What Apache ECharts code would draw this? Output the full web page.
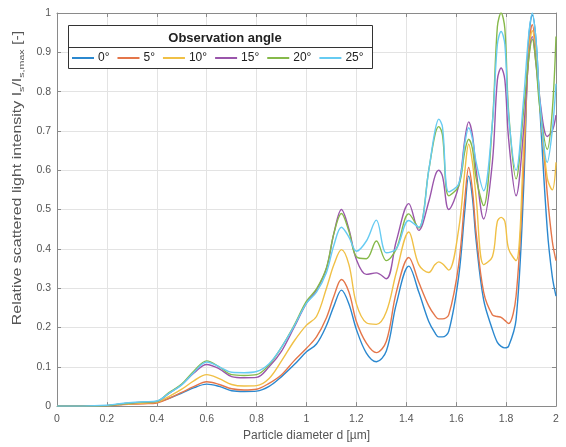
<!DOCTYPE html>
<html>
<head>
<meta charset="utf-8">
<script src="https://cdn.jsdelivr.net/npm/echarts@6/dist/echarts.min.js"></script>
<style>html,body{margin:0;padding:0;background:#fff}#c{width:566px;height:447px}</style>
</head>
<body>
<div id="c"></div>
<script>
var xs = [0, 0.1, 0.2, 0.25, 0.3, 0.35, 0.4, 0.45, 0.5, 0.55, 0.6, 0.65, 0.7, 0.75, 0.8, 0.85, 0.9, 0.95, 1.0,
  1.04, 1.08, 1.11, 1.14, 1.17, 1.2, 1.24, 1.28, 1.32, 1.36, 1.41, 1.45, 1.49, 1.515, 1.53, 1.545, 1.57, 1.61, 1.635, 1.65, 1.665,
  1.68, 1.71, 1.745, 1.765, 1.78, 1.795, 1.81, 1.84, 1.87, 1.89, 1.905, 1.92, 1.935, 1.965, 1.985, 2.0];

var angle0 = [0, 0, 0.001, 0.004, 0.006, 0.008, 0.01, 0.02, 0.033, 0.047, 0.056, 0.05, 0.039, 0.037, 0.038, 0.05, 0.075, 0.105, 0.138,
  0.158, 0.205, 0.255, 0.295, 0.26, 0.195, 0.135, 0.113, 0.14, 0.26, 0.356, 0.29, 0.215, 0.186, 0.176, 0.176, 0.19, 0.33, 0.5, 0.585, 0.53,
  0.42, 0.27, 0.195, 0.162, 0.152, 0.148, 0.152, 0.22, 0.55, 0.93, 0.995, 0.93, 0.76, 0.45, 0.33, 0.28];
var angle5 = [0, 0, 0.001, 0.003, 0.005, 0.006, 0.008, 0.02, 0.035, 0.05, 0.062, 0.055, 0.044, 0.041, 0.043, 0.058, 0.08, 0.115, 0.147,
  0.176, 0.225, 0.28, 0.322, 0.29, 0.215, 0.16, 0.136, 0.165, 0.29, 0.378, 0.315, 0.255, 0.23, 0.222, 0.222, 0.232, 0.36, 0.53, 0.607, 0.55,
  0.44, 0.29, 0.232, 0.228, 0.226, 0.218, 0.21, 0.28, 0.6, 0.9, 0.97, 0.9, 0.78, 0.54, 0.42, 0.37];
var angle10 = [0, 0, 0.001, 0.004, 0.006, 0.008, 0.01, 0.025, 0.043, 0.065, 0.08, 0.07, 0.055, 0.051, 0.052, 0.07, 0.115, 0.165, 0.206,
  0.228, 0.3, 0.36, 0.398, 0.36, 0.26, 0.212, 0.208, 0.24, 0.34, 0.443, 0.36, 0.34, 0.36, 0.367, 0.362, 0.346, 0.45, 0.6, 0.666, 0.62,
  0.53, 0.36, 0.38, 0.47, 0.48, 0.47, 0.4, 0.37, 0.65, 0.89, 0.955, 0.89, 0.77, 0.58, 0.55, 0.62];
var angle15 = [0, 0, 0.001, 0.005, 0.008, 0.01, 0.012, 0.033, 0.055, 0.085, 0.106, 0.095, 0.075, 0.072, 0.073, 0.1, 0.14, 0.2, 0.262,
  0.295, 0.35, 0.44, 0.5, 0.45, 0.373, 0.335, 0.339, 0.324, 0.42, 0.515, 0.447, 0.52, 0.585, 0.6, 0.585, 0.5, 0.56, 0.68, 0.723, 0.69,
  0.6, 0.476, 0.62, 0.83, 0.86, 0.83, 0.68, 0.535, 0.7, 0.88, 0.94, 0.87, 0.78, 0.686, 0.7, 0.74];
var angle20 = [0, 0, 0.001, 0.005, 0.008, 0.01, 0.012, 0.035, 0.056, 0.09, 0.115, 0.1, 0.08, 0.078, 0.08, 0.105, 0.15, 0.205, 0.267,
  0.298, 0.352, 0.44, 0.49, 0.445, 0.38, 0.375, 0.42, 0.37, 0.4, 0.489, 0.453, 0.6, 0.69, 0.711, 0.69, 0.535, 0.56, 0.65, 0.679, 0.655,
  0.58, 0.51, 0.72, 0.965, 1.0, 0.96, 0.75, 0.578, 0.75, 0.88, 0.933, 0.87, 0.76, 0.653, 0.75, 0.94];
var angle25 = [0, 0, 0.002, 0.006, 0.009, 0.011, 0.013, 0.033, 0.054, 0.087, 0.112, 0.1, 0.086, 0.085, 0.088, 0.108, 0.15, 0.203, 0.262,
  0.29, 0.34, 0.41, 0.455, 0.43, 0.394, 0.42, 0.473, 0.39, 0.4, 0.472, 0.455, 0.6, 0.7, 0.73, 0.71, 0.545, 0.565, 0.67, 0.708, 0.68,
  0.62, 0.548, 0.72, 0.92, 0.953, 0.92, 0.74, 0.6, 0.78, 0.94, 1.0, 0.93, 0.78, 0.62, 0.7, 0.82];

var seriesNames = ['0°', '5°', '10°', '15°', '20°', '25°'];
var seriesValues = [angle0, angle5, angle10, angle15, angle20, angle25];
var colors = ['#2b88cf', '#e4764a', '#f0c046', '#9a55ab', '#86b94a', '#66cbf2'];

var legendTitle = 'Observation angle';
var xTitle = 'Particle diameter d [µm]';

var chart = echarts.init(document.getElementById('c'), null, {renderer: 'canvas'});
var FONT = 'Liberation Sans, Arial, sans-serif';
var axisCol = '#8a8a8a';
var labCol = '#555';

function pairs(v) { return xs.map(function (x, i) { return [x, v[i]]; }); }

var series = seriesNames.map(function (n, i) {
  return {
    name: n, type: 'line', data: pairs(seriesValues[i]), smooth: 0.35,
    showSymbol: false, symbol: 'none', xAxisIndex: 0, yAxisIndex: 0, z: 2,
    lineStyle: {width: 1.4, color: colors[i]}, itemStyle: {color: colors[i]},
    emphasis: {disabled: true}, animation: false
  };
});

var option = {
  animation: false,
  backgroundColor: '#fff',
  grid: {left: 57, right: 10, top: 13, bottom: 40, containLabel: false},
  title: {
    text: legendTitle, left: 220, top: 27, textAlign: 'center', z: 20,
    textStyle: {fontFamily: FONT, fontSize: 13, fontWeight: 'bold', color: '#222'}
  },
  legend: {
    data: seriesNames, left: 72, top: 52, itemWidth: 22, itemHeight: 2, itemGap: 8,
    icon: 'rect', padding: 0, z: 20,
    textStyle: {fontFamily: FONT, fontSize: 12, color: '#222', padding: [0, 0, 0, -1]}
  },
  graphic: [
    {type: 'rect', left: 68, top: 25, z: 10, silent: true,
      shape: {width: 304, height: 43}, style: {fill: '#fff', stroke: '#333', lineWidth: 1}},
    {type: 'line', z: 11, silent: true, shape: {x1: 68, y1: 47.5, x2: 372, y2: 47.5}, style: {stroke: '#333', lineWidth: 1}},
    {type: 'text', x: 18, y: 178, rotation: Math.PI / 2, scaleX: 1.33, silent: true, z: 20,
      style: {
        text: '{n|Relative scattered light intensity I}{s|s}{n|/I}{s|s,max}{n| [-]}',
        align: 'center', verticalAlign: 'middle',
        rich: {
          n: {fontFamily: FONT, fontSize: 12, fill: labCol},
          s: {fontFamily: FONT, fontSize: 8, fill: labCol, padding: [7, 0, 0, 0]}
        }
      }}
  ],
  xAxis: [{
    type: 'value', min: 0, max: 2, interval: 0.2, position: 'bottom',
    name: xTitle, nameLocation: 'middle', nameGap: 23,
    nameTextStyle: {fontFamily: FONT, fontSize: 12, color: labCol},
    axisLine: {show: true, onZero: false, lineStyle: {color: axisCol, width: 1}},
    axisTick: {show: true, inside: true, length: 4, lineStyle: {color: axisCol}},
    axisLabel: {fontFamily: FONT, fontSize: 10.5, color: labCol, margin: 8},
    splitLine: {show: true, lineStyle: {color: '#e3e3e3', width: 1}}
  }, {
    type: 'value', min: 0, max: 2, interval: 0.2, position: 'top',
    axisLine: {show: true, onZero: false, lineStyle: {color: axisCol, width: 1}},
    axisTick: {show: true, inside: true, length: 4, lineStyle: {color: axisCol}},
    axisLabel: {show: false}, splitLine: {show: false}
  }],
  yAxis: [{
    type: 'value', min: 0, max: 1, interval: 0.1, position: 'left',
    axisLine: {show: true, onZero: false, lineStyle: {color: axisCol, width: 1}},
    axisTick: {show: true, inside: true, length: 4, lineStyle: {color: axisCol}},
    axisLabel: {fontFamily: FONT, fontSize: 10.5, color: labCol, margin: 6},
    splitLine: {show: true, lineStyle: {color: '#e3e3e3', width: 1}}
  }, {
    type: 'value', min: 0, max: 1, interval: 0.1, position: 'right',
    axisLine: {show: true, onZero: false, lineStyle: {color: axisCol, width: 1}},
    axisTick: {show: true, inside: true, length: 4, lineStyle: {color: axisCol}},
    axisLabel: {show: false}, splitLine: {show: false}
  }],
  series: series
};
chart.setOption(option);
</script>
</body>
</html>
